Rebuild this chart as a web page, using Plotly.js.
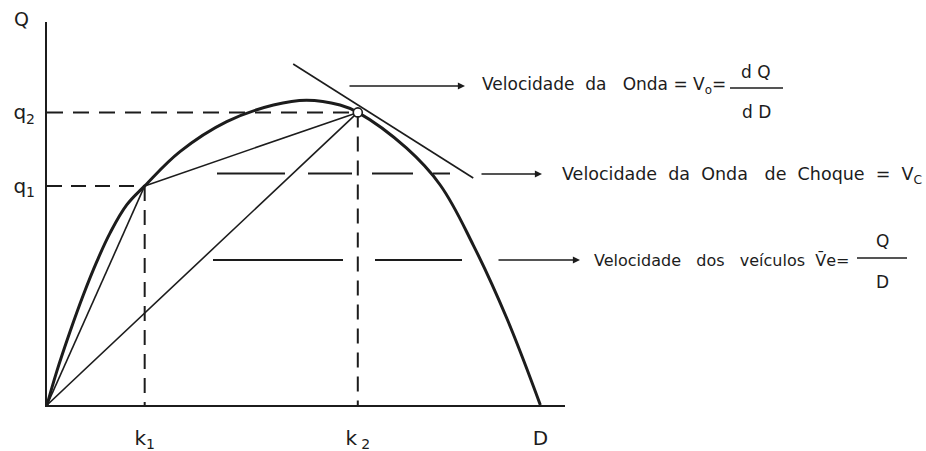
<!DOCTYPE html>
<html>
<head>
<meta charset="utf-8">
<script src="https://cdn.plot.ly/plotly-3.0.1.min.js"></script>
<style>
  html, body { margin: 0; padding: 0; background: #fff; }
  #chart { width: 926px; height: 451px; }
</style>
</head>
<body>
<div id="chart"></div>
<script>
// Fundamental diagram of traffic flow: flow Q against density D
const densityD = [0, 1.97, 4.66, 7.36, 10.07, 12.77, 16.16, 19.8, 26.96, 36.43, 45.9, 52.6, 59.4, 63.0, 72.9, 79.7, 86.4, 93.2, 100];
const flowQ    = [0, 10.9, 23.9, 35.9, 46.7, 56.1, 65.3, 71.5, 82.7, 92.5, 97.9, 99.5, 97.9, 95.5, 83.8, 71.8, 52.2, 28.3, 0];

// two traffic states on the curve
const k1 = 19.8, q1 = 71.5;
const k2 = 63.0, q2 = 95.5;
const jamDensity = 100;

// tangent at state 2 (wave speed)
const tangentD = [49.9, 86.4];
const tangentQ = [111.3, 74.1];

// axis labels
const xTickLabels = ['k<sub>1</sub>', 'k\u2009<sub>2</sub>', 'D'];
const yTickLabels = ['q<sub>1</sub>', 'q<sub>2</sub>'];

const ink = '#1c1c1c';
const family = 'DejaVu Sans, sans-serif';
const axisFont = { family: family, size: 20, color: ink };

// plot area in pixels (used to place the side texts in paper units)
const L = 47, T = 22, W = 518, H = 383;
const px = p => (p - L) / W;
const py = p => (T + H - p) / H;

const traces = [
  // flow-density curve
  { x: densityD, y: flowQ, mode: 'lines', line: { color: ink, width: 3, shape: 'spline', smoothing: 1.1 } },
  // chords from origin and between the two states
  { x: [0, k1], y: [0, q1], mode: 'lines', line: { color: ink, width: 1.6 } },
  { x: [k1, k2], y: [q1, q2], mode: 'lines', line: { color: ink, width: 1.6 } },
  { x: [0, k2], y: [0, q2], mode: 'lines', line: { color: ink, width: 1.6 } },
  // tangent
  { x: tangentD, y: tangentQ, mode: 'lines', line: { color: ink, width: 1.6 } },
  // reference dashes to the axes
  { x: [0, k1], y: [q1, q1], mode: 'lines', line: { color: ink, width: 2, dash: '15px,9px' } },
  { x: [k1, k1], y: [q1, 0], mode: 'lines', line: { color: ink, width: 2, dash: '15px,9px' } },
  { x: [0, k2], y: [q2, q2], mode: 'lines', line: { color: ink, width: 2, dash: '16px,10px' } },
  { x: [k2, k2], y: [q2, 0], mode: 'lines', line: { color: ink, width: 2, dash: '15px,9px' } },
  // state 2 marker
  { x: [k2], y: [q2], mode: 'markers', marker: { symbol: 'circle', size: 9, color: '#fff', line: { color: ink, width: 1.6 } } }
];

function arrow(x0, x1, y) {
  return { xref: 'paper', yref: 'paper', x: px(x1), y: py(y), axref: 'pixel', ayref: 'pixel',
           ax: x0 - x1, ay: 0, text: '', showarrow: true, arrowhead: 2, arrowsize: 1.1,
           arrowwidth: 1.3, arrowcolor: ink, standoff: 0, startstandoff: 0 };
}
function label(text, x, y, anchor, size) {
  return { xref: 'paper', yref: 'paper', x: px(x), y: py(y), text: text, showarrow: false,
           xanchor: anchor || 'center', yanchor: 'middle',
           font: { family: family, size: size || 16, color: ink } };
}
function hline(x0, x1, y, dash, width) {
  return { type: 'line', xref: 'paper', yref: 'paper', x0: px(x0), x1: px(x1), y0: py(y), y1: py(y),
           line: { color: ink, width: width || 2, dash: dash || 'solid' } };
}

const layout = {
  width: 926, height: 451,
  margin: { l: L, r: 926 - L - W, t: T, b: 451 - T - H },
  paper_bgcolor: '#fff', plot_bgcolor: '#fff',
  showlegend: false,
  xaxis: {
    range: [0, 105], showgrid: false, zeroline: false, showline: true, linecolor: ink, linewidth: 2,
    ticks: '', tickvals: [k1, k2, jamDensity], ticktext: xTickLabels, tickfont: axisFont,
    ticklabelstandoff: 14, fixedrange: true
  },
  yaxis: {
    range: [0, 125], showgrid: false, zeroline: false, showline: true, linecolor: ink, linewidth: 2,
    ticks: '', tickvals: [q1, q2], ticktext: yTickLabels, tickfont: axisFont,
    ticklabelstandoff: 6, fixedrange: true
  },
  shapes: [
    // leader dashes
    hline(217, 452, 173.5, '68px,23px,44px,20px,41px,20px,17px,200px', 1.8),
    hline(213, 462, 260, '130px,32px,87px,200px', 1.8),
    // fraction bars
    hline(730, 783, 88, 'solid', 1.4),
    hline(857, 907, 258, 'solid', 1.4)
  ],
  annotations: [
    label('Q', 21, 19, 'center', 19),
    arrow(348, 465, 86),
    arrow(480, 542, 174),
    arrow(497, 580, 260),
    label('Velocidade\u00a0 da\u00a0\u00a0 Onda = V<sub>o</sub>=', 480, 86, 'left', 17),
    label('d Q', 756, 72, 'center', 17),
    label('d D', 756, 112, 'center', 17),
    label('Velocidade\u00a0 da\u00a0 Onda\u00a0\u00a0 de\u00a0 Choque\u00a0 =\u00a0 V<sub>C</sub>', 560, 175, 'left', 17.5),
    label('Velocidade\u00a0\u00a0 dos\u00a0\u00a0 veículos\u00a0 V\u0304e=', 592, 260, 'left', 16),
    label('Q', 882, 241, 'center', 17),
    label('D', 882, 282, 'center', 17)
  ]
};

Plotly.newPlot('chart', traces, layout, { staticPlot: true, displayModeBar: false });
</script>
</body>
</html>
